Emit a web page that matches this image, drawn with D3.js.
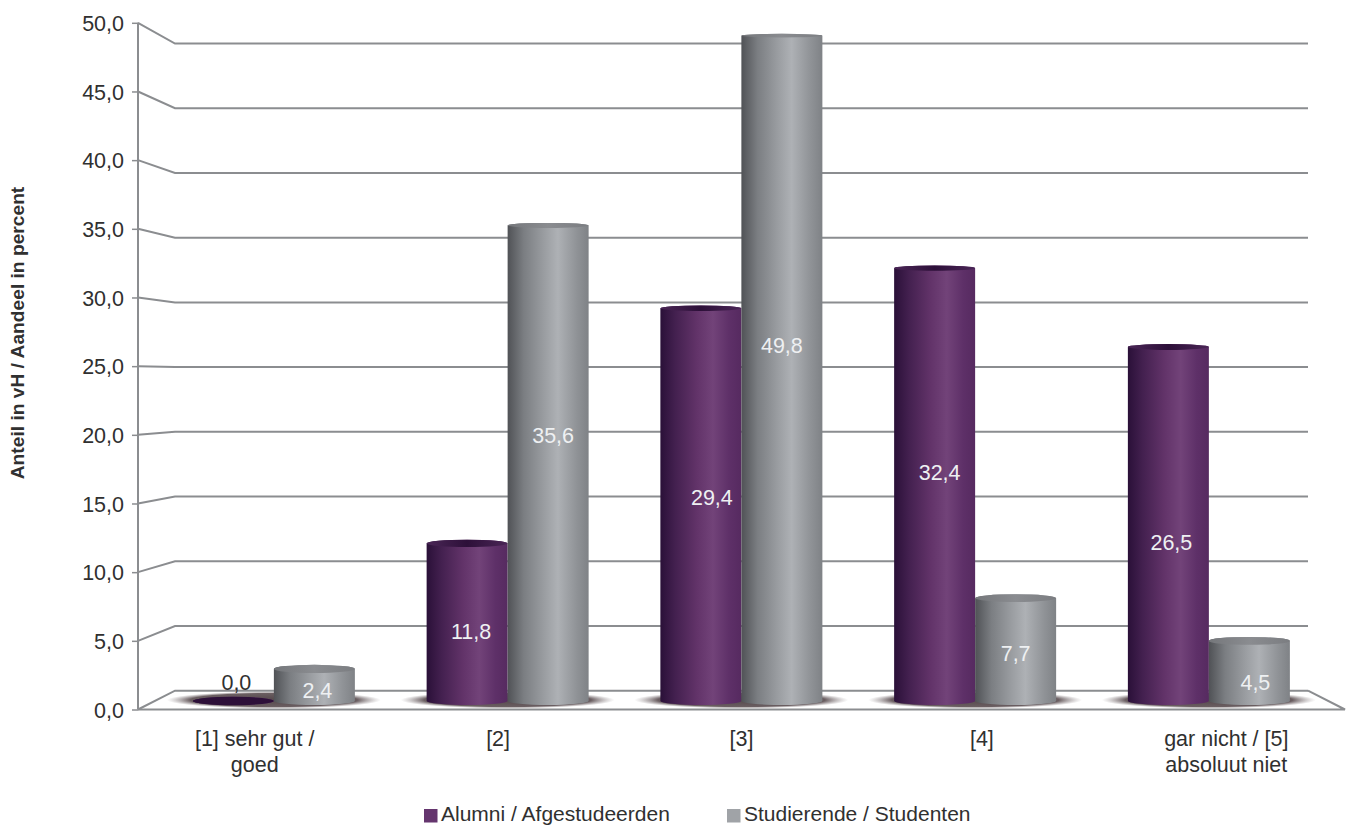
<!DOCTYPE html>
<html><head><meta charset="utf-8">
<script src="https://cdnjs.cloudflare.com/ajax/libs/d3/7.8.5/d3.min.js"></script>
<style>html,body{margin:0;padding:0;background:#fff;overflow:hidden}svg{display:block}
text{font-family:"Liberation Sans",Arial,sans-serif;fill:#303030}</style></head>
<body><svg id="c" width="1348" height="826"></svg>
<script>
const categories=[["[1] sehr gut /","goed"],["[2]"],["[3]"],["[4]"],["gar nicht / [5]","absoluut niet"]];
const seriesNames=["Alumni / Afgestudeerden","Studierende / Studenten"];
const alumni=[0.0,11.8,29.4,32.4,26.5];
const studenten=[2.4,35.6,49.8,7.7,4.5];
const yTicks=[0,5,10,15,20,25,30,35,40,45,50];
const fmt=v=>v.toFixed(1).replace(".",",");

// layout, kept apart from the data
const alumniLabelDx=[3,4,11,5,3];
const alumniLabelDy=[-19,9,-7,-12,18];
const studentLabelDx=[3,5,0,0,6];
const studentLabelDy=[5,-28,-23,4,11];
const catDx=[-4,-2,0,-1,2];

const svg=d3.select("#c");
const defs=svg.append("defs");
function hgrad(id,stops){const g=defs.append("linearGradient").attr("id",id);
  stops.forEach(s=>g.append("stop").attr("offset",s[0]).attr("stop-color",s[1]));}
hgrad("gP",[[0,"#2a1038"],[.18,"#43204f"],[.45,"#623369"],[.65,"#724379"],[.85,"#5e3068"],[1,"#562a60"]]);
hgrad("gS",[[0,"#505256"],[.2,"#7b7e82"],[.45,"#9a9da1"],[.62,"#aeb1b5"],[.85,"#909397"],[1,"#7f8286"]]);
hgrad("gSt",[[0,"#75777b"],[.5,"#8a8c90"],[1,"#7b7d81"]]);
hgrad("gPt",[[0,"#4a2656"],[.5,"#2d1039"],[1,"#4a2656"]]);
const rg=defs.append("radialGradient").attr("id","shadow");
rg.append("stop").attr("offset",0).attr("stop-color","#55484c").attr("stop-opacity",1);
rg.append("stop").attr("offset",.78).attr("stop-color","#6a5e61").attr("stop-opacity",1);
rg.append("stop").attr("offset",1).attr("stop-color","#a09a9c").attr("stop-opacity",0);

const yFront=d3.scaleLinear().domain([0,50]).range([709.5,22.8]);
const yBack=d3.scaleLinear().domain([0,50]).range([690.7,43.5]);
const yBar=d3.scaleLinear().domain([0,50]).range([701,33]);
const ryOf=d3.scaleLinear().domain([0,50]).range([4.2,1.8]);
const frontL=138,frontR=1345,backL=175,backR=1308;
const xBack=d3.scaleBand().domain(d3.range(5)).range([157,1325.75]);
const xLabel=d3.scaleBand().domain(d3.range(5)).range([frontL,frontR]);
const bw=81;
const lineCol="#8b8d90";

const grid=svg.append("g").attr("fill","none").attr("stroke",lineCol).attr("stroke-width",2);
grid.selectAll("path.g").data(yTicks).join("path").attr("class","g")
  .attr("d",t=>`M${frontL},${yFront(t)}L${backL},${yBack(t)}L${backR},${yBack(t)}`);
grid.append("line").attr("x1",frontL).attr("x2",frontL).attr("y1",yFront(50)).attr("y2",yFront(0));
grid.append("path").attr("d",`M${backR},${yBack(0)}L${frontR},${yFront(0)}L${frontL},${yFront(0)}`);

const yAxis=d3.axisLeft(yFront).tickValues(yTicks).tickFormat(fmt).tickSize(6).tickPadding(8);
const ax=svg.append("g").attr("transform",`translate(${frontL},0)`).call(yAxis);
ax.select(".domain").remove();
ax.selectAll("line").attr("stroke",lineCol).attr("stroke-width",1.5);
ax.selectAll("text").attr("font-size",21.5).style("fill","#303030").attr("font-family",null).attr("dy","0.36em");

svg.append("g").selectAll("ellipse").data(d3.range(5)).join("ellipse")
  .attr("cx",i=>xBack(i)+xBack.bandwidth()/2).attr("cy",700).attr("rx",107).attr("ry",8.5)
  .attr("fill","url(#shadow)");

function cyl(x,v){
  const yt=yBar(v),yb=yBar(0),rt=bw/2,ry=ryOf(v),r0=4;
  return `M${x},${yt}L${x},${yb}A${rt},${r0} 0 0 0 ${x+bw},${yb}L${x+bw},${yt}A${rt},${ry} 0 0 0 ${x},${yt}Z`;
}
const series=[{vals:alumni,side:"url(#gP)",top:"url(#gPt)",off:-bw,dx:alumniLabelDx,dy:alumniLabelDy},
              {vals:studenten,side:"url(#gS)",top:"url(#gSt)",off:0,dx:studentLabelDx,dy:studentLabelDy}];
series.forEach(s=>{
  const g=svg.append("g");
  const cx=i=>xBack(i)+xBack.bandwidth()/2+s.off;
  g.selectAll("path").data(s.vals).join("path").attr("d",(v,i)=>cyl(cx(i),v)).attr("fill",s.side);
  g.selectAll("ellipse").data(s.vals).join("ellipse")
    .attr("cx",(v,i)=>cx(i)+bw/2).attr("cy",v=>yBar(v)).attr("rx",bw/2).attr("ry",v=>ryOf(v))
    .attr("fill",(v)=>v===0?"#2d1039":s.top);
});
series.forEach(s=>{
  svg.append("g").selectAll("text").data(s.vals).join("text")
    .attr("x",(v,i)=>xBack(i)+xBack.bandwidth()/2+s.off+bw/2+s.dx[i])
    .attr("y",(v,i)=>(yBar(v)+yBar(0))/2+s.dy[i])
    .attr("text-anchor","middle").attr("dy","0.36em").attr("font-size",21.5)
    .style("fill",v=>v===0?"#303030":"#eef0f2").text(fmt);
});

const cat=svg.append("g");
categories.forEach((lines,i)=>{
  const t=cat.append("text").attr("text-anchor","middle").attr("font-size",21.5);
  lines.forEach((l,j)=>t.append("tspan").attr("x",xLabel(i)+xLabel.bandwidth()/2+catDx[i]).attr("y",746+j*26).text(l));
});

svg.append("text").attr("transform","translate(24,333) rotate(-90)").attr("text-anchor","middle")
  .attr("font-size",19.2).attr("font-weight","bold").text("Anteil in vH / Aandeel in percent");

const lx=d3.scaleOrdinal().domain(seriesNames).range([424,727]);
const lc=d3.scaleOrdinal().domain(seriesNames).range(["#65356e","#a0a3a7"]);
const lg=svg.append("g").selectAll("g").data(seriesNames).join("g").attr("transform",d=>`translate(${lx(d)},809)`);
lg.append("rect").attr("width",13.5).attr("height",13.5).attr("fill",d=>lc(d));
lg.append("text").attr("x",17).attr("y",12).attr("font-size",21).text(d=>d);
</script></body></html>
